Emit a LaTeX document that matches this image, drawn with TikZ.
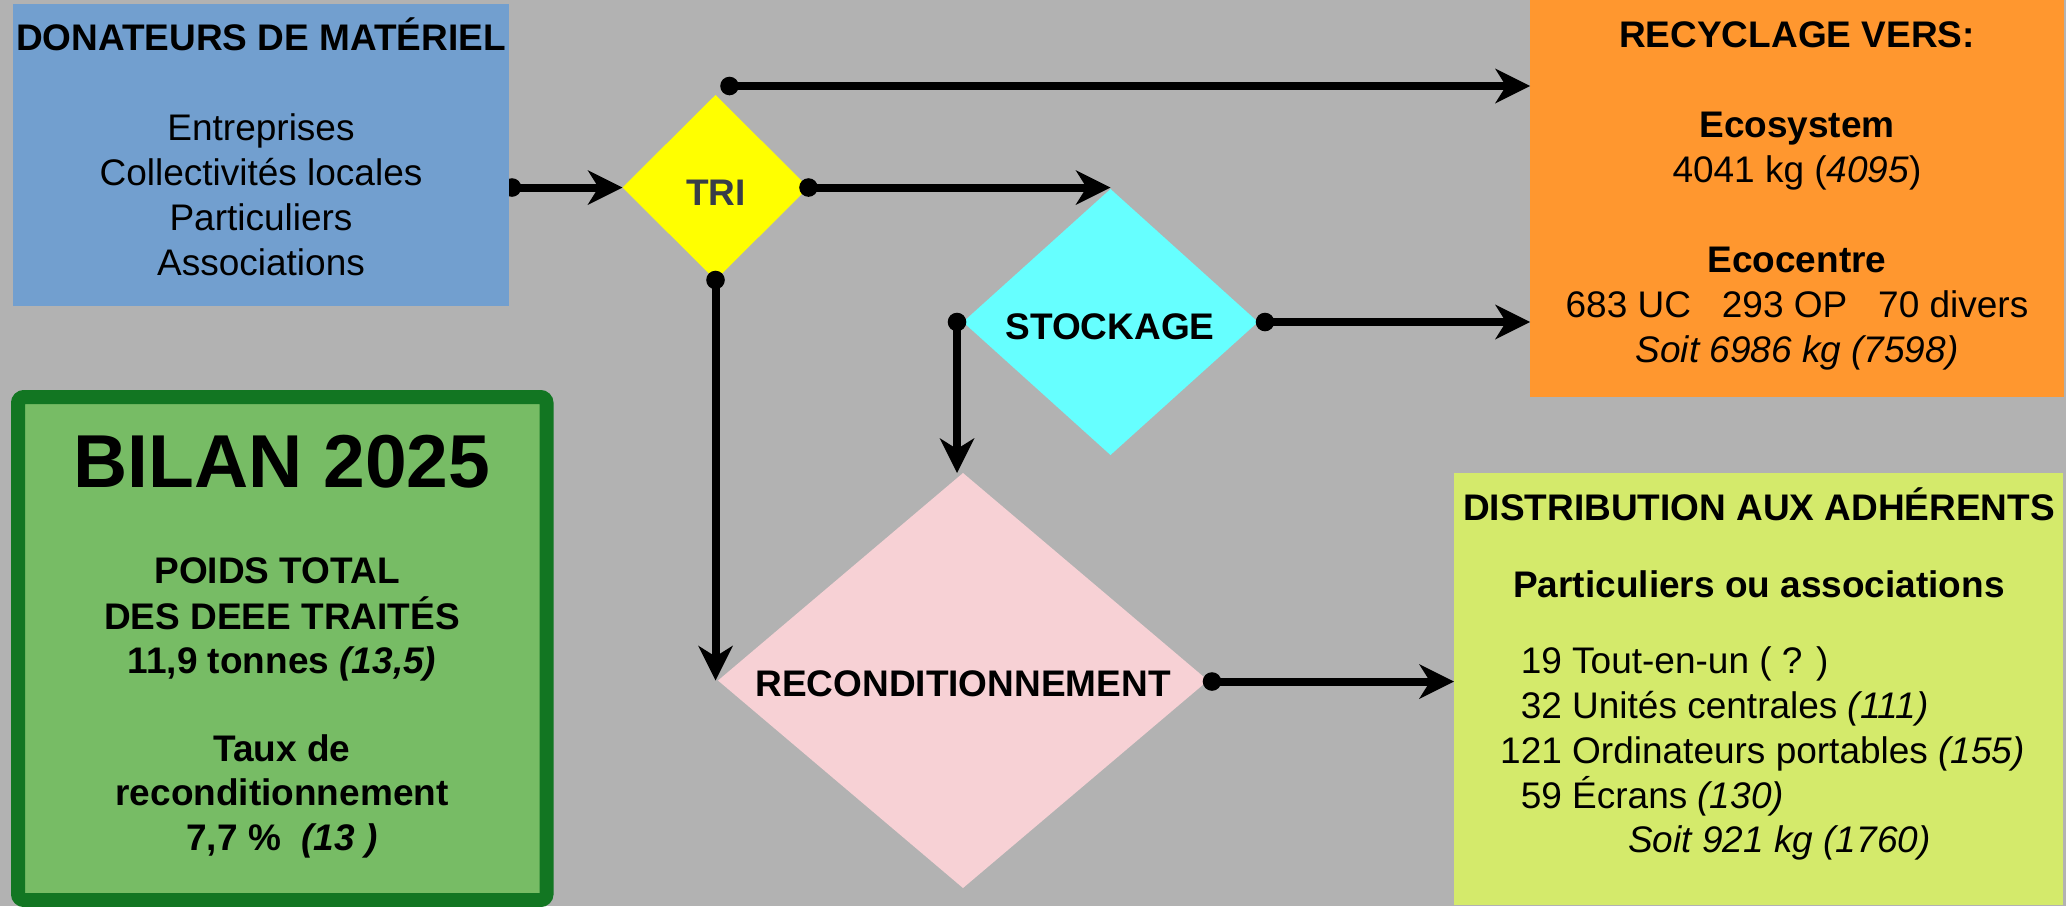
\documentclass[tikz,border=0pt]{standalone}
\usepackage{fontspec}
\setmainfont{Liberation Sans}
\usetikzlibrary{shapes.geometric,arrows.meta,calc,backgrounds}
\definecolor{bgc}{HTML}{B2B2B2}
\definecolor{bluec}{HTML}{729FCF}
\definecolor{orangec}{HTML}{FF972F}
\definecolor{limec}{HTML}{D4EA6B}
\definecolor{greenc}{HTML}{77BC65}
\definecolor{greenb}{HTML}{127622}
\definecolor{pinkc}{HTML}{F7D1D5}
\definecolor{cyanc}{HTML}{66FFFF}
\definecolor{yellowc}{HTML}{FFFF00}
\definecolor{trit}{HTML}{383D48}
\begin{document}
\begin{tikzpicture}[x=1pt,y=-1pt,
  conn/.style={line width=8pt,-{Stealth[length=35pt,width=35pt,inset=11pt,line width=0pt]}},
  dia/.style={diamond,inner sep=0pt,outer sep=0pt},
  box/.style={rectangle,inner sep=0pt,outer sep=0pt},
  txt/.style={inner sep=0pt,anchor=base,font=\fontsize{37}{45}\selectfont},
  btxt/.style={txt,font=\fontsize{37}{45}\selectfont\bfseries}]
\useasboundingbox (0,0) rectangle (2066,906);
\begin{pgfonlayer}{background}
\fill[bgc] (0,0) rectangle (2066,906);
\end{pgfonlayer}

% boxes
\node[box,fill=bluec,minimum width=496pt,minimum height=302pt] (don) at (261,155) {};
\node[box,fill=orangec,minimum width=534pt,minimum height=397pt] (rec) at (1797,198.5) {};
\node[box,fill=limec,minimum width=609pt,minimum height=432pt] (dist) at (1758.5,689) {};
\node[box,fill=greenc,draw=greenb,line width=14pt,rounded corners=6pt,minimum width=528.5pt,minimum height=503pt] (bil) at (282.25,648.5) {};

% diamonds
\node[dia,fill=yellowc,shape aspect=1,minimum width=186pt,minimum height=185pt] (tri) at (715.5,187.5) {};
\node[dia,fill=cyanc,shape aspect=1.1,minimum width=295pt,minimum height=266pt] (sto) at (1110.5,322) {};
\node[dia,fill=pinkc,shape aspect=1.18,minimum width=490pt,minimum height=415pt] (rc) at (963,680.5) {};

% diamond labels
\node[btxt,text=trit] (trilab) at (716,205) {TRI};
\node[btxt] (stolab) at (1110,339) {STOCKAGE};
\node[btxt] (rclab) at (963,696) {RECONDITIONNEMENT};

% box texts
\node[txt] (dontxt) at (261,50) {\begin{tabular}[t]{@{}c@{}}\textbf{DONATEURS DE MATÉRIEL}\\ \\ Entreprises\\ Collectivités locales\\ Particuliers\\ Associations\end{tabular}};
\node[txt] (rectxt) at (1797,47.5) {\begin{tabular}[t]{@{}c@{}}\textbf{RECYCLAGE VERS:}\\ \\ \textbf{Ecosystem}\\ 4041 kg (\textit{4095})\\ \\ \textbf{Ecocentre}\\ 683 UC\ \ \ 293 OP\ \ \ 70 divers\\ \textit{Soit 6986 kg (7598)}\end{tabular}};
\node[btxt] (disttitle) at (1759,520) {DISTRIBUTION AUX ADHÉRENTS};
\node[btxt] (distsub) at (1759,597) {Particuliers ou associations};
\node[txt,anchor=base west] (distlist) at (1500,673) {\begin{tabular}[t]{@{}r@{\ }l@{}}19 & Tout-en-un ( ? )\\ 32 & Unités centrales \textit{(111)}\\ 121 & Ordinateurs portables \textit{(155)}\\ 59 & Écrans \textit{(130)}\end{tabular}};
\node[txt,anchor=base west] (distsum) at (1628,852) {\textit{Soit 921 kg (1760)}};
\node[txt,font=\fontsize{75}{90}\selectfont\bfseries] (biltitle) at (282,487) {BILAN 2025};
\node[txt,font=\fontsize{37}{44.2}\selectfont\bfseries] (biltxt) at (282,583) {\begin{tabular}[t]{@{}c@{}}POIDS TOTAL\kern10pt\\ DES DEEE TRAITÉS\\ 11,9 tonnes \textit{(13,5)}\\ \\ Taux de\\ reconditionnement\\ 7,7 \%\ \ \textit{(13 )}\end{tabular}};

% connectors
\coordinate (c1) at ([xshift=3pt]don.east |- tri.west);
\begin{pgfonlayer}{background}
\draw[conn] (c1) -- (tri.west);
\fill (c1) circle[radius=9.3pt];
\end{pgfonlayer}

\coordinate (c2) at ($(tri.north)+(14,-9)$);
\draw[conn] (c2) -- (c2 -| rec.west);
\fill (c2) circle[radius=9.3pt];

\draw[conn] (tri.east) -- (tri.east -| sto.north);
\fill (tri.east) circle[radius=9.3pt];

\draw[conn] (tri.south) -- (tri.south |- rc.west);
\fill (tri.south) circle[radius=9.3pt];

\coordinate (c5) at ($(sto.west)+(-6,0)$);
\draw[conn] (c5) -- (c5 |- rc.north);
\fill (c5) circle[radius=9.3pt];

\coordinate (c6) at ($(sto.east)+(7,0)$);
\draw[conn] (c6) -- (c6 -| rec.west);
\fill (c6) circle[radius=9.3pt];

\coordinate (c7) at ($(rc.east)+(4,1)$);
\draw[conn] (c7) -- (c7 -| dist.west);
\fill (c7) circle[radius=9.3pt];
\end{tikzpicture}
\end{document}
